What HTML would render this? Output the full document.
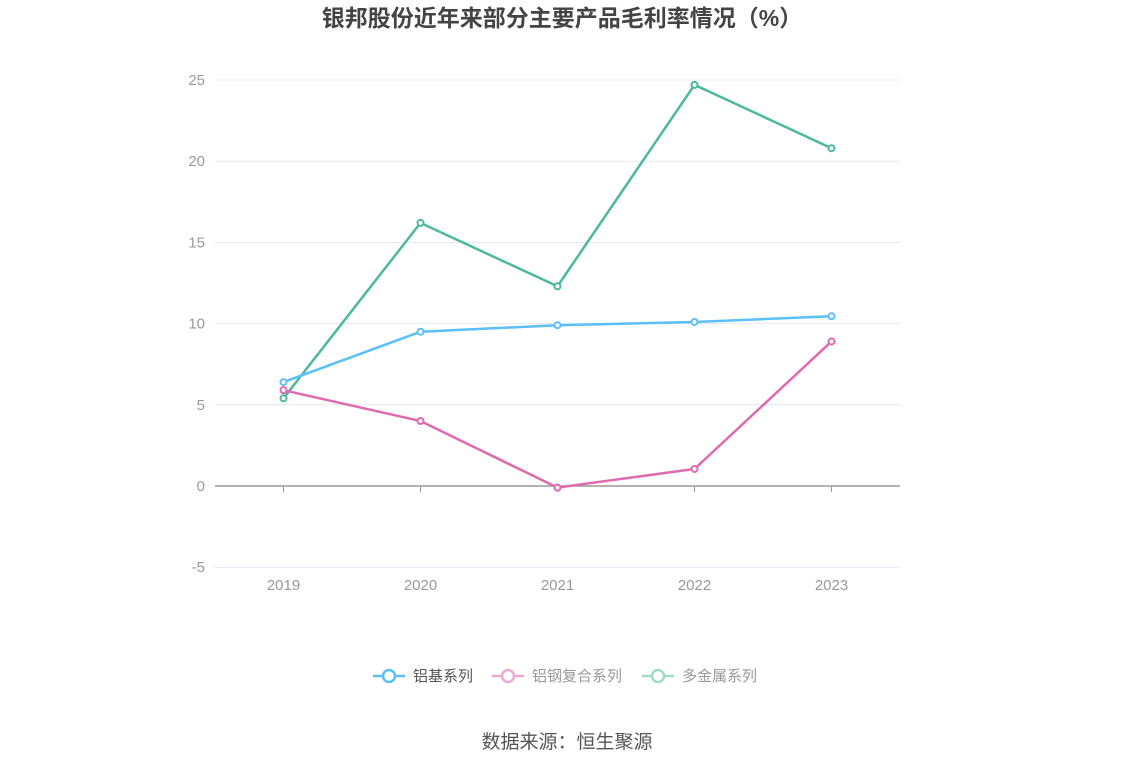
<!DOCTYPE html>
<html><head><meta charset="utf-8"><style>
body{margin:0;background:#fff;font-family:"Liberation Sans","Noto Sans CJK SC",sans-serif;}
</style></head><body>
<svg width="1134" height="766" xmlns="http://www.w3.org/2000/svg" font-family="Liberation Sans, Noto Sans CJK SC, sans-serif">
<text x="562" y="26" text-anchor="middle" font-size="23" font-weight="bold" fill="#444">银邦股份近年来部分主要产品毛利率情况（%）</text>
<g id="grid"></g><g id="xaxis"></g><g id="series"></g>
<g font-size="15">
<g><line x1="373" y1="676" x2="405" y2="676" stroke="#5bc0f8" stroke-width="2.5"/><circle cx="389" cy="676" r="6" fill="#fff" stroke="#5bc0f8" stroke-width="2.5"/><text x="413" y="681" fill="#555">铝基系列</text></g>
<g><line x1="492" y1="676" x2="524" y2="676" stroke="#f0a8cf" stroke-width="2.5"/><circle cx="508" cy="676" r="6" fill="#fff" stroke="#f0a8cf" stroke-width="2.5"/><text x="532" y="681" fill="#999">铝钢复合系列</text></g>
<g><line x1="642" y1="676" x2="674" y2="676" stroke="#9fdcc8" stroke-width="2.5"/><circle cx="658" cy="676" r="6" fill="#fff" stroke="#9fdcc8" stroke-width="2.5"/><text x="682" y="681" fill="#999">多金属系列</text></g>
</g>
<text x="567" y="748" text-anchor="middle" font-size="19" fill="#555">数据来源：恒生聚源</text>
</svg>
<script>
const categories=["2019","2020","2021","2022","2023"];
const yTicks=[-5,0,5,10,15,20,25];
const aluminum=[6.4,9.5,9.9,10.1,10.45];
const alSteel=[5.9,4.0,-0.1,1.05,8.9];
const multiMetal=[5.4,16.2,12.3,24.7,20.8];
const NS="http://www.w3.org/2000/svg";
const x0=215,x1=900,y0v=486,pxPer=16.24;
const bw=(x1-x0)/categories.length;
const X=i=>x0+bw*(i+0.5);
const Y=v=>y0v-v*pxPer;
function mk(t,a,p){const e=document.createElementNS(NS,t);for(const k in a)e.setAttribute(k,a[k]);p.appendChild(e);return e;}
const g=document.getElementById('grid');
yTicks.forEach(v=>{
 const l=mk('line',{x1:x0,x2:x1,y1:Y(v),y2:Y(v),stroke:v===0?'#999':'#e4e8f0','stroke-width':v===0?1.5:1},g);
 
 
 const t=mk('text',{x:205,y:Y(v)+5,'text-anchor':'end','font-size':15,fill:'#999'},g);
 t.textContent=v;
 
 
});
const xa=document.getElementById('xaxis');
categories.forEach((c,i)=>{
 const tk=mk('line',{x1:X(i),x2:X(i),y1:y0v,y2:y0v+6,stroke:'#999'},xa);
 
 
 const t=mk('text',{x:X(i),y:590,'text-anchor':'middle','font-size':15,fill:'#999'},xa);
 t.textContent=c;
 
 
});
const s=document.getElementById('series');
[[multiMetal,'#4db89e','multimetal'],[aluminum,'#5bc0f8','aluminum'],[alSteel,'#e06aae','al-steel']].forEach(([d,c,n])=>{
 const p=mk('polyline',{points:d.map((v,i)=>X(i)+','+Y(v)).join(' '),fill:'none',stroke:c,'stroke-width':2.5},s);
 
 
 d.forEach((v,i)=>{
  const pt=mk('circle',{cx:X(i),cy:Y(v),r:3,fill:'#fff',stroke:c,'stroke-width':2},s);
  
  
 });
});
</script>
</body></html>
